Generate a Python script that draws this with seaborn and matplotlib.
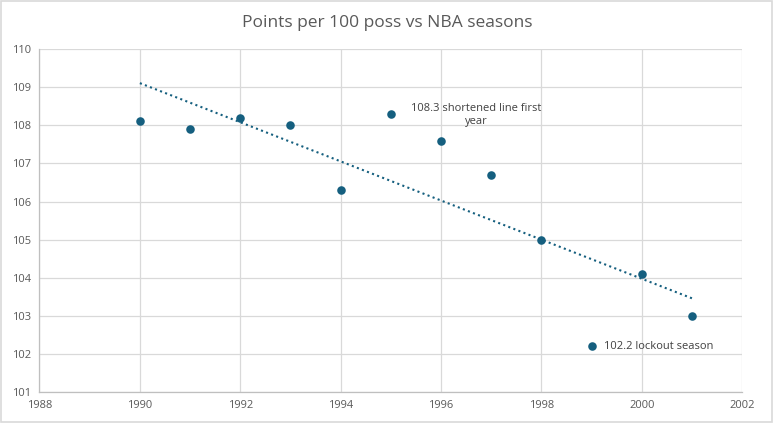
import numpy as np
import pandas as pd
import matplotlib
matplotlib.use("Agg")
import matplotlib.pyplot as plt
import seaborn as sns

# Data
seasons = [1990, 1991, 1992, 1993, 1994, 1995, 1996, 1997, 1998, 1999, 2000, 2001]
points_per_100 = [108.1, 107.9, 108.2, 108.0, 106.3, 108.3, 107.6, 106.7, 105.0, 102.2, 104.1, 103.0]
x_ticks = [1988, 1990, 1992, 1994, 1996, 1998, 2000, 2002]
y_ticks = [101, 102, 103, 104, 105, 106, 107, 108, 109, 110]

df = pd.DataFrame({"season": seasons, "pts": points_per_100})

sns.set_theme(style="white")
plt.rcParams["font.family"] = ["Open Sans", "DejaVu Sans"]

point_color = "#155f7f"
grid_color = "#d9d9d9"
text_color = "#595959"

fig = plt.figure(figsize=(7.74, 4.23), dpi=100)
ax = fig.add_axes([0.051, 0.073, 0.908, 0.811])

# linear trendline (least squares like Excel)
slope, intercept = np.polyfit(df["season"], df["pts"], 1)
trend_x = np.array([df["season"].min(), df["season"].max()])
ax.plot(trend_x, slope * trend_x + intercept, linestyle=(0, (1, 1.6)),
        color=point_color, linewidth=1.5, zorder=2)

sns.scatterplot(data=df, x="season", y="pts", ax=ax, color=point_color,
                s=38, edgecolor=point_color, linewidth=0, zorder=3)

ax.set_xlim(1988, 2002)
ax.set_ylim(101, 110)
ax.set_xticks(x_ticks)
ax.set_yticks(y_ticks)
ax.grid(True, color=grid_color, linewidth=0.9)
for s in ax.spines.values():
    s.set_visible(False)
for side in ["bottom", "left"]:
    ax.spines[side].set_visible(True)
    ax.spines[side].set_color("#bfbfbf")
    ax.spines[side].set_linewidth(0.9)
ax.tick_params(axis="both", length=0, labelsize=8, labelcolor=text_color, pad=6)
ax.set_xlabel("")
ax.set_ylabel("")

ax.annotate("108.3 shortened line first\nyear", xy=(1995, 108.3), xytext=(1996.7, 108.27),
            ha="center", va="center", fontsize=8, color="#404040", linespacing=1.3)
ax.annotate("102.2 lockout season", xy=(1999, 102.2), xytext=(1999.25, 102.2),
            ha="left", va="center", fontsize=8, color="#404040")

fig.suptitle("Points per 100 poss vs NBA seasons", y=0.965, fontsize=12.5, color=text_color)

# thin outer border like the chart frame
fig.patches.append(plt.Rectangle((0.001, 0.002), 0.997, 0.996, transform=fig.transFigure,
                                 fill=False, edgecolor="#d9d9d9", linewidth=1.2))

fig.savefig("out.png", dpi=100)
